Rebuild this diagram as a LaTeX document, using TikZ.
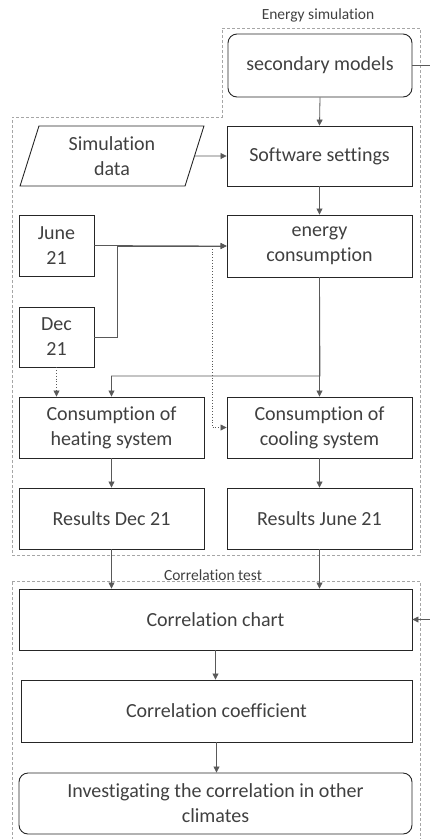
\documentclass[tikz,border=0pt]{standalone}
\usepackage{fontspec}
\setmainfont{Carlito}[Ligatures=NoCommon]
\usetikzlibrary{arrows.meta,shapes.geometric}
\definecolor{linec}{HTML}{595959}
\definecolor{boxc}{HTML}{262626}
\definecolor{textc}{HTML}{404040}
\definecolor{regc}{HTML}{A6A6A6}
\begin{document}
\begin{tikzpicture}[x=1pt,y=-1pt,
  box/.style={draw=boxc, line width=0.9pt, text=textc, align=center,
    font=\fontsize{20}{25}\selectfont, inner sep=0pt},
  rbox/.style={box, rounded corners=9pt},
  conn/.style={draw=linec, line width=0.8pt, -{Triangle[length=6pt,width=6pt]}},
  dconn/.style={conn, dotted},
  region/.style={draw=regc, line width=0.7pt, dash pattern=on 3pt off 2pt},
  lbl/.style={text=textc, font=\fontsize{15.5}{18}\selectfont, inner sep=1pt}
]
\useasboundingbox (0,0) rectangle (430,839);
% regions
\draw[region] (222,28) -- (420,28) -- (420,555) -- (12,555) -- (12,117) -- (222,117) -- cycle;
\draw[region] (12,581) -- (420,581) -- (420,850) -- (12,850) -- cycle;
\node[lbl] (lE) at (318,15) {Energy simulation};
\node[lbl, fill=white, minimum width=160pt] (lC) at (213,575) {Correlation test};
% nodes
\node[rbox, minimum width=184pt, minimum height=63pt] (sm) at (320,65.5) {secondary models};
\node[box, trapezium, trapezium left angle=74, trapezium right angle=106,
      trapezium stretches=true, minimum width=184pt, minimum height=60pt] (sd) at (112,156) {Simulation\\data};
\node[box, minimum width=185pt, minimum height=60pt] (ss) at (319.5,156) {Software settings};
\node[box, minimum width=75pt, minimum height=61pt] (jun) at (56.5,245.5) {June\\21};
\node[box, minimum width=75pt, minimum height=60pt] (dec) at (56.5,337) {Dec\\21};
\node[box, minimum width=185pt, minimum height=62pt] (ec) at (319.5,246) {energy\\consumption};
\node[box, minimum width=185pt, minimum height=61pt] (heat) at (111.5,427.5) {Consumption of\\heating system};
\node[box, minimum width=185pt, minimum height=61pt] (cool) at (319.5,427.5) {Consumption of\\cooling system};
\node[box, minimum width=185pt, minimum height=61pt] (rdec) at (111.5,518.5) {Results Dec 21};
\node[box, minimum width=185pt, minimum height=61pt] (rjun) at (319.5,518.5) {Results June 21};
\node[box, minimum width=393pt, minimum height=61pt] (cc) at (215.5,619.5) {Correlation chart};
\node[box, minimum width=391pt, minimum height=62pt] (cf) at (216.5,711) {Correlation coefficient};
\node[rbox, minimum width=393pt, minimum height=61pt] (inv) at (215.5,803.5) {Investigating the correlation in other\\climates};
% connectors
\path[conn] (sm.south) -- (ss.north);
\path[conn] (sd.east) -- (ss.west);
\path[conn] (ss.south) -- (ec.north);
\path[conn] (jun.east) -- (ec.west);
\path[conn] (dec.east) -- (117,337) |- (ec.west);
\path[dconn] (212,246) |- (cool.west);
\path[dconn] (dec.south) -- (dec.south |- heat.north);
\path[conn] (ec.south) -- (320,376) -| (heat.north);
\path[conn] (ec.south) -- (cool.north);
\path[conn] (heat.south) -- (rdec.north);
\path[conn] (cool.south) -- (rjun.north);
\path[conn] (rdec.south) -- (rdec.south |- cc.north);
\path[conn] (rjun.south) -- (rjun.south |- cc.north);
\path[conn] (cc.south) -- (cc.south |- cf.north);
\path[conn] (cf.south) -- (cf.south |- inv.north);
\path[conn] (sm.east) -- (440,65.5) |- (cc.east);
\end{tikzpicture}
\end{document}
